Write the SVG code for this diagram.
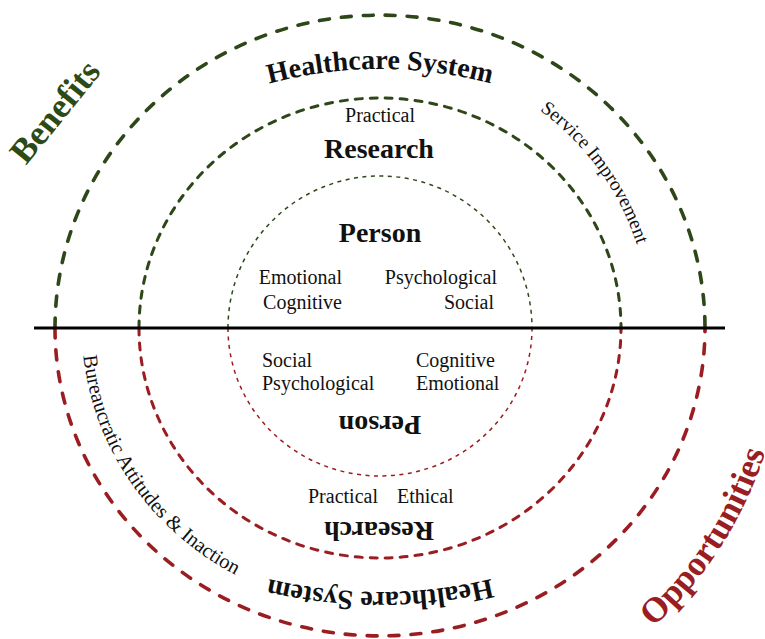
<svg xmlns="http://www.w3.org/2000/svg" width="765" height="639" viewBox="0 0 765 639">
  <style>
    .ring { fill: none; stroke-linecap: round; }
    .green { stroke: #2e4718; }
    .red { stroke: #9a1d21; }
    .outer { stroke-width: 3.6; stroke-dasharray: 10 12; }
    .middle { stroke-width: 3; stroke-dasharray: 7 8; }
    .inner { stroke-width: 1.5; stroke-dasharray: 4 4.5; stroke-linecap: butt; }
    text { font-family: "Liberation Serif", "Times New Roman", serif; fill: #111; }
    .title { font-size: 28px; font-weight: bold; }
    .item { font-size: 20px; }
    .side { font-size: 19.5px; }
    .banner { font-size: 35px; font-weight: bold; }
  </style>
  <defs>
    <path id="arcHealthTop" d="M 150 135.7 A 430 430 0 0 1 610 135.7"/>
    <path id="arcHealthBottom" d="M 600 538.6 A 480 480 0 0 1 160 538.6"/>
    <path id="arcService" d="M 539.7 110.3 A 270 270 0 0 1 650 328"/>
    <path id="arcBureau" d="M 82 328 A 300 283 0 0 0 380 611"/>
    <path id="arcOpp" d="M 640.3 638.2 A 405 405 0 0 0 785 328"/>
  </defs>

  <!-- concentric rings: upper halves green, lower halves red -->
  <g id="ring-healthcare">
    <path class="ring green outer" d="M 55 328 A 325 313 0 0 1 705 328"/>
    <path class="ring red outer" d="M 55 328 A 325 308 0 0 0 705 328"/>
  </g>
  <g id="ring-research">
    <path class="ring green middle" d="M 139 328 A 241 230 0 0 1 621 328"/>
    <path class="ring red middle" d="M 139 328 A 241 230 0 0 0 621 328"/>
  </g>
  <g id="ring-person">
    <path class="ring green inner" d="M 228 328 A 152 152 0 0 1 532 328"/>
    <path class="ring red inner" d="M 228 328 A 152 148 0 0 0 532 328"/>
  </g>

  <!-- dividing line -->
  <g id="connectors">
    <line x1="34" y1="328" x2="725" y2="328" stroke="#000" stroke-width="3"/>
  </g>

  <!-- upper half: benefits -->
  <g id="benefits-label">
    <text class="banner" style="fill:#2e4a14" x="64" y="119" text-anchor="middle" transform="rotate(-51 64 119)">Benefits</text>
  </g>
  <g id="healthcare-top">
    <text class="title"><textPath href="#arcHealthTop" startOffset="50%" text-anchor="middle">Healthcare System</textPath></text>
    <text class="side"><textPath href="#arcService" startOffset="0">Service Improvement</textPath></text>
  </g>
  <g id="research-top">
    <text class="item" x="380" y="122" text-anchor="middle">Practical</text>
    <text class="title" x="379" y="158" text-anchor="middle">Research</text>
  </g>
  <g id="person-top">
    <text class="title" x="380" y="242" text-anchor="middle">Person</text>
    <text class="item" x="342" y="284" text-anchor="end">Emotional</text>
    <text class="item" x="342" y="309" text-anchor="end">Cognitive</text>
    <text class="item" x="497" y="284" text-anchor="end">Psychological</text>
    <text class="item" x="494" y="309" text-anchor="end">Social</text>
  </g>

  <!-- lower half: opportunities -->
  <g id="person-bottom">
    <text class="item" x="262" y="367">Social</text>
    <text class="item" x="262" y="390">Psychological</text>
    <text class="item" x="416" y="367">Cognitive</text>
    <text class="item" x="416" y="390">Emotional</text>
    <text class="title" x="380" y="432" text-anchor="middle" transform="rotate(180 380 424)">Person</text>
  </g>
  <g id="research-bottom">
    <text class="item" x="308" y="503">Practical</text>
    <text class="item" x="397" y="503">Ethical</text>
    <text class="title" x="379" y="540" text-anchor="middle" transform="rotate(180 379 531)">Research</text>
  </g>
  <g id="healthcare-bottom">
    <text class="title"><textPath href="#arcHealthBottom" startOffset="50%" text-anchor="middle">Healthcare System</textPath></text>
    <text class="side" style="font-size:20.5px"><textPath href="#arcBureau" startOffset="28">Bureaucratic Attitudes &amp; Inaction</textPath></text>
  </g>
  <g id="opportunities-label">
    <text class="banner" style="fill:#9a1d21"><textPath href="#arcOpp" startOffset="17">Opportunities</textPath></text>
  </g>
</svg>
